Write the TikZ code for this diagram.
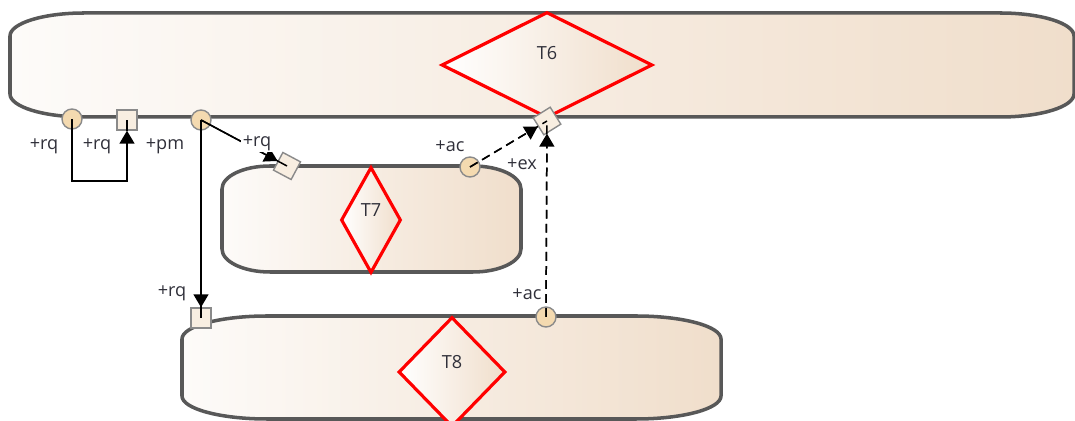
\documentclass[tikz,border=0pt]{standalone}
\usepackage{fontspec}
\setmainfont{Open Sans}
\usetikzlibrary{arrows.meta,shapes.geometric}
\definecolor{edge}{HTML}{585858}
\definecolor{capL}{HTML}{FDFBF9}
\definecolor{capM}{HTML}{F9F2EA}
\definecolor{capR}{HTML}{F0DECB}
\definecolor{portfill}{HTML}{F4DAB0}
\definecolor{pinfill}{HTML}{F8EEE1}
\definecolor{portedge}{HTML}{8A8A8A}
\definecolor{txt}{HTML}{30303A}
\tikzset{capbox/.style={draw=edge,line width=2pt,left color=capL,middle color=capM,right color=capR}, dia/.style={diamond,draw=red,line width=1.8pt,left color=white,middle color=white,right color=capR,inner sep=0pt},port/.style={circle,draw=portedge,line width=0.8pt,fill=portfill,minimum size=0.4cm,inner sep=0pt},pin/.style={rectangle,draw=portedge,line width=0.8pt,fill=pinfill,minimum size=0.4cm,inner sep=0pt},lbl/.style={font=\fontsize{10.3}{12}\selectfont,text=txt,inner sep=1pt},link/.style={line width=0.85pt},arr/.style={-{Triangle[length=0.26cm,width=0.3cm]},line width=0.85pt},flow/.style={dash pattern=on 5pt off 3pt}}
\newcommand{\capsule}[6]{\draw[capbox] (#1,#2+#6) arc[start angle=180,end angle=270,x radius=#5,y radius=#6] -- (#3-#5,#2) arc[start angle=270,end angle=360,x radius=#5,y radius=#6] -- (#3,#4-#6) arc[start angle=0,end angle=90,x radius=#5,y radius=#6] -- (#1+#5,#4) arc[start angle=90,end angle=180,x radius=#5,y radius=#6] -- cycle;}

\begin{document}
\begin{tikzpicture}[x=0.02cm,y=-0.02cm]
\clip (0,0) rectangle (1075,421);
\fill[white] (0,0) rectangle (1075,421);
\capsule{10}{13}{1074}{117}{74}{23}
\capsule{222}{166}{521}{272}{48}{23}
\capsule{182}{316}{721}{419}{85}{23}
\node[dia,minimum width=4.22cm,minimum height=2.12cm,label={[lbl,yshift=0.24cm]center:T6}] (t6) at (547,65) {};
\node[dia,minimum width=1.2cm,minimum height=2.12cm,label={[lbl,yshift=0.2cm]center:T7}] (t7) at (371,220) {};
\node[dia,minimum width=2.14cm,minimum height=2.2cm,label={[lbl,yshift=0.2cm]center:T8}] (t8) at (452,372) {};
\node[port] (rqa) at (72,119) {};
\node[pin] (rqb) at (127,120) {};
\node[port] (pm) at (201,120) {};
\node[pin,rotate=-28] (rqc) at (287,166) {};
\node[port] (aca) at (470,167) {};
\node[pin,rotate=32] (ex) at (547,121) {};
\node[pin] (rqd) at (201,318) {};
\node[port] (acb) at (546,317) {};
\draw[arr] (rqa.center) -- ++(0,62) -| (rqb);
\draw[link] (rqb.south) -- (rqb.center);
\draw[link] (pm.center) -- (rqc.center);
\draw[arr] (pm.center) -- (rqc);
\draw[link] (pm.center) -- (rqd.center);
\draw[arr] (pm.center) -- (rqd);
\draw[link,flow] (aca.center) -- (ex.center);
\draw[arr,flow] (aca.center) -- (ex);
\draw[link,flow] (acb.center) -- (ex.center);
\draw[arr,flow] (acb.center) -- (ex);
\node[lbl] (l1) at (44,146) {+rq};
\node[lbl] (l2) at (97,146) {+rq};
\node[lbl] (l3) at (165,146) {+pm};
\node[lbl,fill=white] (l4) at (257,143) {+rq};
\node[lbl] (l5) at (450,146) {+ac};
\node[lbl] (l6) at (522,164) {+ex};
\node[lbl] (l7) at (172,293) {+rq};
\node[lbl] (l8) at (527,294) {+ac};
\end{tikzpicture}
\end{document}
